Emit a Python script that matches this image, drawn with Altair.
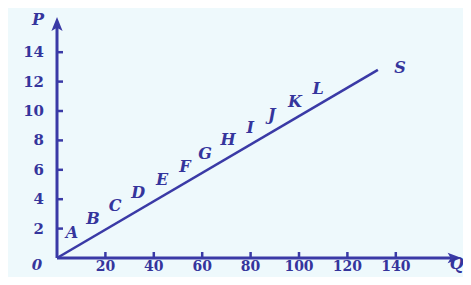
import altair as alt
import pandas as pd

# ---- data ----
x_ticks = [20, 40, 60, 80, 100, 120, 140]
y_ticks = [2, 4, 6, 8, 10, 12, 14]
point_names = list("ABCDEFGHIJKL")
point_q = [6.2, 14.9, 24.0, 33.5, 43.4, 52.9, 61.2, 70.7, 79.8, 88.8, 98.3, 107.9]
point_p = [1.73, 2.67, 3.53, 4.4, 5.33, 6.2, 7.07, 8.0, 8.87, 9.73, 10.6, 11.47]
supply_q = [0, 132.6]
supply_p = [0, 12.8]
supply_name = "S"
supply_label_q = [141.7]
supply_label_p = [12.93]
q_axis_end = 167.2
p_axis_end = 16.4

W, H = 455, 269
BLUE = "#3a3aa6"
TXT = "#35359c"
BG = "#eef9fc"
FONT = "DejaVu Serif"
PX_PER_Q = 2.42
PX_PER_P = 14.7

x_scale = alt.Scale(domain=[-20.25, 167.77], nice=False, zero=False)
y_scale = alt.Scale(domain=[-1.2925, 17.007], nice=False, zero=False)


def X(field="q"):
    return alt.X(f"{field}:Q", scale=x_scale, axis=None)


def Y(field="p"):
    return alt.Y(f"{field}:Q", scale=y_scale, axis=None)


# axes (lines)
x_axis_df = pd.DataFrame({"q": [0.0], "q2": [q_axis_end - 6 / PX_PER_Q], "p": [0.0]})
y_axis_df = pd.DataFrame({"q": [0.0], "p": [0.0], "p2": [p_axis_end - 6 / PX_PER_P]})

x_axis = alt.Chart(x_axis_df).mark_rule(color=BLUE, strokeWidth=3, strokeCap="butt").encode(
    x=X(), x2="q2:Q", y=Y()
)
y_axis = alt.Chart(y_axis_df).mark_rule(color=BLUE, strokeWidth=3, strokeCap="butt").encode(
    x=X(), y=Y(), y2="p2:Q"
)

up_arrow_df = pd.DataFrame({"q": [0.0], "p": [p_axis_end]})
right_arrow_df = pd.DataFrame({"q": [q_axis_end], "p": [0.0]})
up_arrow = alt.Chart(up_arrow_df).mark_point(
    shape="M0,-1L0.8,1L0,0.55L-0.8,1Z", size=196, filled=True, color=BLUE, opacity=1, yOffset=7
).encode(x=X(), y=Y())
right_arrow = alt.Chart(right_arrow_df).mark_point(
    shape="M1,0L-1,0.75L-0.55,0L-1,-0.75Z", size=196, filled=True, color=BLUE, opacity=1, xOffset=-7
).encode(x=X(), y=Y())

# tick marks
xt_df = pd.DataFrame({"q": x_ticks, "p": [0] * len(x_ticks), "lab": [str(v) for v in x_ticks]})
yt_df = pd.DataFrame({"q": [0] * len(y_ticks), "p": y_ticks, "lab": [str(v) for v in y_ticks]})

x_tickmarks = alt.Chart(xt_df).mark_tick(
    orient="vertical", color=BLUE, size=6, thickness=2.5, yOffset=-3, opacity=1
).encode(x=X(), y=Y())
y_tickmarks = alt.Chart(yt_df).mark_tick(
    orient="horizontal", color=BLUE, size=6, thickness=2.5, xOffset=3, opacity=1
).encode(x=X(), y=Y())

x_ticklabels = alt.Chart(xt_df).mark_text(
    font=FONT, fontSize=14, fontWeight="bold", color=TXT, align="center", baseline="top", dy=2
).encode(x=X(), y=Y(), text="lab:N")
y_ticklabels = alt.Chart(yt_df).mark_text(
    font=FONT, fontSize=15, fontWeight="bold", color=TXT, align="right", baseline="middle", dx=-13
).encode(x=X(), y=Y(), text="lab:N")

origin_df = pd.DataFrame({"q": [0.0], "p": [0.0]})
origin_label = alt.Chart(origin_df).mark_text(
    text="0", font=FONT, fontSize=15, fontWeight="bold", fontStyle="italic", color=TXT,
    align="center", baseline="middle", dx=-20, dy=7
).encode(x=X(), y=Y())

p_label = alt.Chart(up_arrow_df).mark_text(
    text="P", font=FONT, fontSize=16, fontWeight="bold", fontStyle="italic", color=TXT,
    align="center", baseline="middle", dx=-19, dy=3
).encode(x=X(), y=Y())
q_label = alt.Chart(right_arrow_df).mark_text(
    text="Q", font=FONT, fontSize=16, fontWeight="bold", fontStyle="italic", color=TXT,
    align="center", baseline="middle", dx=-5, dy=6
).encode(x=X(), y=Y())

# supply line
supply_df = pd.DataFrame({"q": supply_q, "p": supply_p})
supply_line = alt.Chart(supply_df).mark_line(color=BLUE, strokeWidth=2.6).encode(
    x=X(), y=Y(), order="q:Q"
)
s_df = pd.DataFrame({"q": supply_label_q, "p": supply_label_p, "lab": [supply_name]})
s_label = alt.Chart(s_df).mark_text(
    font=FONT, fontSize=16, fontWeight="bold", fontStyle="italic", color=TXT,
    align="center", baseline="middle"
).encode(x=X(), y=Y(), text="lab:N")

pts_df = pd.DataFrame({"q": point_q, "p": point_p, "lab": point_names})
pts_labels = alt.Chart(pts_df).mark_text(
    font=FONT, fontSize=16, fontWeight="bold", fontStyle="italic", color=TXT,
    align="center", baseline="middle"
).encode(x=X(), y=Y(), text="lab:N")

chart = alt.layer(
    supply_line, x_axis, y_axis, up_arrow, right_arrow, x_tickmarks, y_tickmarks,
    x_ticklabels, y_ticklabels, origin_label, p_label, q_label, s_label, pts_labels
).properties(
    width=W, height=H, background=BG, padding=0,
    autosize=alt.AutoSizeParams(type="none")
).configure_view(stroke=None)

chart.save("out.html", embed_options={"renderer": "svg", "actions": False})
